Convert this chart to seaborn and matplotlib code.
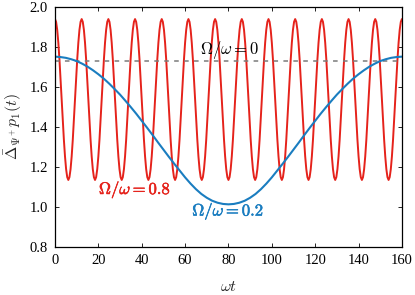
import numpy as np
import pandas as pd
import matplotlib
matplotlib.use("Agg")
import matplotlib.pyplot as plt
import matplotlib.patheffects as pe
import seaborn as sns

# Omega/omega = 0.8 (red), read on 313 evenly spaced points of omega t in [0, 160]
red_y = [
    1.94, 1.926, 1.886, 1.822, 1.739, 1.642, 1.538, 1.433, 1.336, 1.253, 1.189, 1.149,
    1.135, 1.149, 1.189, 1.253, 1.336, 1.433, 1.538, 1.642, 1.739, 1.822, 1.886, 1.926,
    1.94, 1.926, 1.886, 1.822, 1.739, 1.642, 1.538, 1.433, 1.336, 1.253, 1.189, 1.149,
    1.135, 1.149, 1.189, 1.253, 1.336, 1.433, 1.538, 1.642, 1.739, 1.822, 1.886, 1.926,
    1.94, 1.926, 1.886, 1.822, 1.739, 1.642, 1.538, 1.433, 1.336, 1.253, 1.189, 1.149,
    1.135, 1.149, 1.189, 1.253, 1.336, 1.433, 1.538, 1.642, 1.739, 1.822, 1.886, 1.926,
    1.94, 1.926, 1.886, 1.822, 1.739, 1.642, 1.538, 1.433, 1.336, 1.253, 1.189, 1.149,
    1.135, 1.149, 1.189, 1.253, 1.336, 1.433, 1.538, 1.642, 1.739, 1.822, 1.886, 1.926,
    1.94, 1.926, 1.886, 1.822, 1.739, 1.642, 1.538, 1.433, 1.336, 1.253, 1.189, 1.149,
    1.135, 1.149, 1.189, 1.253, 1.336, 1.433, 1.538, 1.642, 1.739, 1.822, 1.886, 1.926,
    1.94, 1.926, 1.886, 1.822, 1.739, 1.642, 1.538, 1.433, 1.336, 1.253, 1.189, 1.149,
    1.135, 1.149, 1.189, 1.253, 1.336, 1.433, 1.538, 1.642, 1.739, 1.822, 1.886, 1.926,
    1.94, 1.926, 1.886, 1.822, 1.739, 1.642, 1.538, 1.433, 1.336, 1.253, 1.189, 1.149,
    1.135, 1.149, 1.189, 1.253, 1.336, 1.433, 1.538, 1.642, 1.739, 1.822, 1.886, 1.926,
    1.94, 1.926, 1.886, 1.822, 1.739, 1.642, 1.538, 1.433, 1.336, 1.253, 1.189, 1.149,
    1.135, 1.149, 1.189, 1.253, 1.336, 1.433, 1.538, 1.642, 1.739, 1.822, 1.886, 1.926,
    1.94, 1.926, 1.886, 1.822, 1.739, 1.642, 1.538, 1.433, 1.336, 1.253, 1.189, 1.149,
    1.135, 1.149, 1.189, 1.253, 1.336, 1.433, 1.538, 1.642, 1.739, 1.822, 1.886, 1.926,
    1.94, 1.926, 1.886, 1.822, 1.739, 1.642, 1.538, 1.433, 1.336, 1.253, 1.189, 1.149,
    1.135, 1.149, 1.189, 1.253, 1.336, 1.433, 1.538, 1.642, 1.739, 1.822, 1.886, 1.926,
    1.94, 1.926, 1.886, 1.822, 1.739, 1.642, 1.538, 1.433, 1.336, 1.253, 1.189, 1.149,
    1.135, 1.149, 1.189, 1.253, 1.336, 1.433, 1.538, 1.642, 1.739, 1.822, 1.886, 1.926,
    1.94, 1.926, 1.886, 1.822, 1.739, 1.642, 1.538, 1.433, 1.336, 1.253, 1.189, 1.149,
    1.135, 1.149, 1.189, 1.253, 1.336, 1.433, 1.538, 1.642, 1.739, 1.822, 1.886, 1.926,
    1.94, 1.926, 1.886, 1.822, 1.739, 1.642, 1.538, 1.433, 1.336, 1.253, 1.189, 1.149,
    1.135, 1.149, 1.189, 1.253, 1.336, 1.433, 1.538, 1.642, 1.739, 1.822, 1.886, 1.926,
    1.94,
]
red_t = np.linspace(0, 160, len(red_y))

# Omega/omega = 0.2 (blue), every 2.5 units of omega t
blue_y = [
    1.752, 1.750, 1.746, 1.739, 1.730, 1.717, 1.702, 1.684, 1.664, 1.642, 1.617,
    1.590, 1.562, 1.531, 1.499, 1.466, 1.431, 1.396, 1.360, 1.323, 1.287, 1.251,
    1.216, 1.182, 1.148, 1.117, 1.089, 1.065, 1.046, 1.031, 1.021, 1.015, 1.013,
    1.015, 1.021, 1.031, 1.046, 1.065, 1.089, 1.117, 1.148, 1.182, 1.216, 1.251,
    1.287, 1.323, 1.360, 1.396, 1.431, 1.466, 1.499, 1.531, 1.562, 1.590, 1.617,
    1.642, 1.664, 1.684, 1.702, 1.717, 1.730, 1.739, 1.746, 1.750, 1.752,
]
blue_t = np.linspace(0, 160, len(blue_y))

# Omega/omega = 0 (constant, dashed)
flat_t = [0, 160]
flat_y = [1.732, 1.732]

x_ticks = [0, 20, 40, 60, 80, 100, 120, 140, 160]
y_ticks = [0.8, 1.0, 1.2, 1.4, 1.6, 1.8, 2.0]

sns.set_style("ticks")
plt.rcParams["font.family"] = ["Liberation Serif", "DejaVu Serif"]
plt.rcParams["mathtext.fontset"] = "cm"

red = "#e5221b"
blue = "#1a7dc0"

fig = plt.figure(figsize=(4.15, 2.95), dpi=100)
ax = fig.add_axes([0.1325, 0.163, 0.836, 0.813])

sns.lineplot(x=red_t, y=red_y, ax=ax, color=red, lw=1.4)
sns.lineplot(x=flat_t, y=flat_y, ax=ax, color="#7a7a7a", lw=1.1,
             linestyle=(0, (3, 3.5)))
sns.lineplot(x=blue_t, y=blue_y, ax=ax, color=blue, lw=1.5)

ax.set_xlim(0, 160)
ax.set_ylim(0.8, 2.0)
ax.set_xticks(x_ticks)
ax.set_yticks(y_ticks)
ax.set_yticklabels([f"{v:.1f}" for v in y_ticks])
ax.tick_params(direction="in", top=True, right=True, length=3, width=0.6,
               labelsize=10.5, colors="black", pad=5)
for s in ax.spines.values():
    s.set_visible(True)
    s.set_linewidth(0.9)
    s.set_color("black")

ax.set_xlabel(r"$\omega t$", fontsize=11.5, labelpad=9)
ax.set_ylabel(r"$\bar{\Delta}_{\Psi^+}p_1(t)$", fontsize=11.5, labelpad=4)

ax.text(80.5, 1.785, r"$\Omega/\omega=0$", ha="center", va="center",
        fontsize=12, color="black")
ax.text(36.9, 1.085, r"$\Omega/\omega=0.8$", ha="center", va="center",
        fontsize=12, color=red,
        path_effects=[pe.withStroke(linewidth=0.4, foreground=red)])
ax.text(79.9, 0.977, r"$\Omega/\omega=0.2$", ha="center", va="center",
        fontsize=12, color=blue,
        path_effects=[pe.withStroke(linewidth=0.4, foreground=blue)])

fig.savefig("out.png", dpi=100)
